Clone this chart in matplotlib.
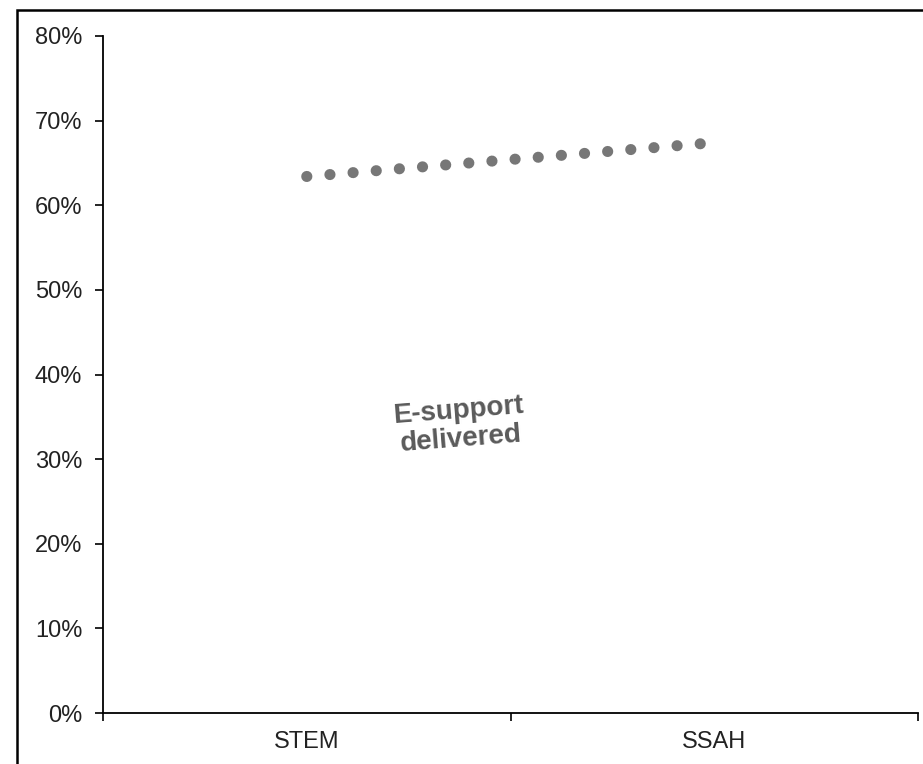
import matplotlib
matplotlib.use("Agg")
import matplotlib.pyplot as plt
from matplotlib.patches import Rectangle
from matplotlib.ticker import PercentFormatter

plt.rcParams['font.family'] = ['Liberation Sans', 'DejaVu Sans']

# data
categories = ['STEM', 'SSAH']
esupport = [63.4, 67.4]
yticks = [0, 10, 20, 30, 40, 50, 60, 70, 80]

fig = plt.figure(figsize=(9.23, 7.64), dpi=100)
ax = fig.add_axes([103 / 923, 51 / 764, 815 / 923, 677 / 764])

xs = range(len(categories))
ax.plot(xs, esupport, color='#777777', linewidth=8,
        linestyle=(0, (0.01, 2.08)), dash_capstyle='round')

ax.text(0.375, 34.0, 'E-support\ndelivered', ha='center', va='center',
        fontsize=20, fontweight='bold', color='#5a5a5a', rotation=4.5,
        linespacing=1.1)

ax.set_xlim(-0.5, 1.5)
ax.set_ylim(0, 80)
ax.set_yticks(yticks)
ax.yaxis.set_major_formatter(PercentFormatter(decimals=0))
ax.set_xticks([-0.5, 0.5, 1.5])
ax.set_xticklabels([])
ax.set_xticks(list(xs), minor=True)
ax.set_xticklabels(categories, minor=True)
ax.tick_params(axis='x', which='minor', length=0, pad=13, labelsize=17, labelcolor='#222222')
ax.tick_params(axis='x', which='major', length=6, width=1.2, direction='out')
ax.tick_params(axis='y', length=6, width=1.2, pad=9, labelsize=17, labelcolor='#222222')

for side in ['top', 'right']:
    ax.spines[side].set_visible(False)
for side in ['left', 'bottom']:
    ax.spines[side].set_linewidth(1.3)

# outer frame (only left and top edges visible in the crop)
fig.patches.append(Rectangle((17 / 923, -0.5), 1.5, 0.5 + 1 - 10 / 764,
                             transform=fig.transFigure, fill=False,
                             edgecolor='black', linewidth=1.8))

fig.savefig('out.png', dpi=100)
